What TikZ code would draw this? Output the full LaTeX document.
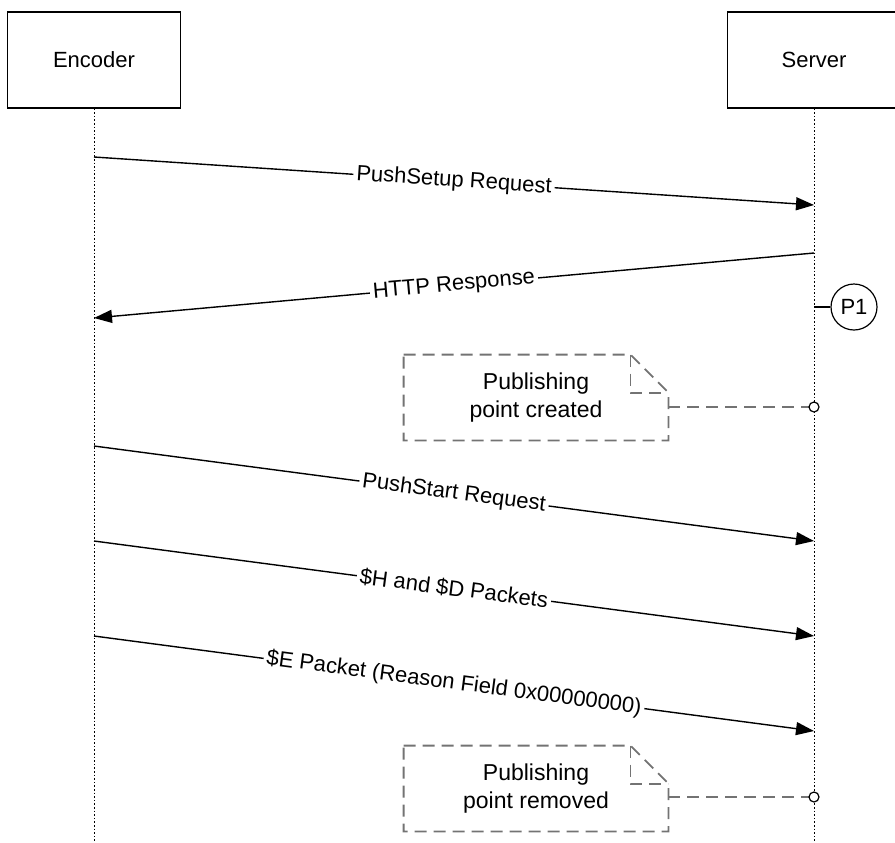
\documentclass[tikz,border=0pt]{standalone}
\usepackage{fontspec}
\setmainfont{Liberation Sans}
\usetikzlibrary{arrows.meta}
\definecolor{notegrey}{RGB}{115,115,115}

\begin{document}
\begin{tikzpicture}[
  x=0.5pt, y=-0.5pt,
  font=\fontsize{11}{13}\selectfont,
  actor/.style={draw, line width=0.6pt, minimum width=86.5pt, minimum height=48pt, inner sep=0pt},
  lifeline/.style={line width=0.5pt, dash pattern=on 0.8pt off 1pt},
  msg/.style={line width=0.7pt, -{Triangle[length=9pt,width=6.5pt]}},
  msglabel/.style={midway, sloped, fill=white, inner sep=1.5pt},
  notebox/.style={minimum width=132pt, minimum height=42.5pt, inner sep=0pt, align=center,
    font=\fontsize{11.5}{14}\selectfont},
  note/.style={draw=notegrey, line width=0.9pt, dash pattern=on 6pt off 3.5pt},
  pin/.style={draw, fill=white, line width=0.6pt},
]
\useasboundingbox (0,0) rectangle (895,842);

% Actors
\node[actor] (enc) at (94,60) {Encoder};
\node[actor] (srv) at (814,60) {Server};

% Lifelines
\coordinate (encend) at (94,842);
\coordinate (srvend) at (814,842);
\draw[lifeline] (enc.south) -- (encend);
\draw[lifeline] (srv.south) -- (srvend);

% Message: PushSetup
\coordinate (e1) at (94,157);
\coordinate (s1) at (814,205);
\draw[msg] (e1) -- node[msglabel]{PushSetup Request} (s1);

% Message: HTTP response
\coordinate (s2) at (814,253);
\coordinate (e2) at (94,318);
\draw[msg] (s2) -- node[msglabel]{HTTP Response} (e2);

% Publishing point P1
\node[circle, draw, line width=0.6pt, minimum size=23pt, inner sep=0pt] (p1) at (854,307) {P1};
\draw[line width=0.6pt] (p1.west) -- (p1.west -| srv);

% Note: created
\node[notebox] (n1) at (536,397.5) {Publishing\\point created};
\draw[note] (n1.north west) -- ([xshift=-19pt]n1.north east) -- ([yshift=-19pt]n1.north east)
  -- (n1.south east) -- (n1.south west) -- cycle;
\draw[note] ([xshift=-19pt]n1.north east) -- ([xshift=-19pt,yshift=-19pt]n1.north east)
  -- ([yshift=-19pt]n1.north east);
\coordinate (c1) at (814,407);
\draw[note] (n1.east |- c1) -- (c1);
\draw[pin] (c1) circle (2.5pt);

% Message: PushStart
\coordinate (e3) at (94,446);
\coordinate (s3) at (814,541);
\draw[msg] (e3) -- node[msglabel]{PushStart Request} (s3);

% Message: header and data packets
\coordinate (e4) at (94,541);
\coordinate (s4) at (814,636);
\draw[msg] (e4) -- node[msglabel]{\$H and \$D Packets} (s4);

% Message: end packet
\coordinate (e5) at (94,636);
\coordinate (s5) at (814,731);
\draw[msg] (e5) -- node[msglabel]{\$E Packet (Reason Field 0x00000000)} (s5);

% Note: removed
\node[notebox] (n2) at (536,788.5) {Publishing\\point removed};
\draw[note] (n2.north west) -- ([xshift=-19pt]n2.north east) -- ([yshift=-19pt]n2.north east)
  -- (n2.south east) -- (n2.south west) -- cycle;
\draw[note] ([xshift=-19pt]n2.north east) -- ([xshift=-19pt,yshift=-19pt]n2.north east)
  -- ([yshift=-19pt]n2.north east);
\coordinate (c2) at (814,797);
\draw[note] (n2.east |- c2) -- (c2);
\draw[pin] (c2) circle (2.5pt);

\end{tikzpicture}
\end{document}
